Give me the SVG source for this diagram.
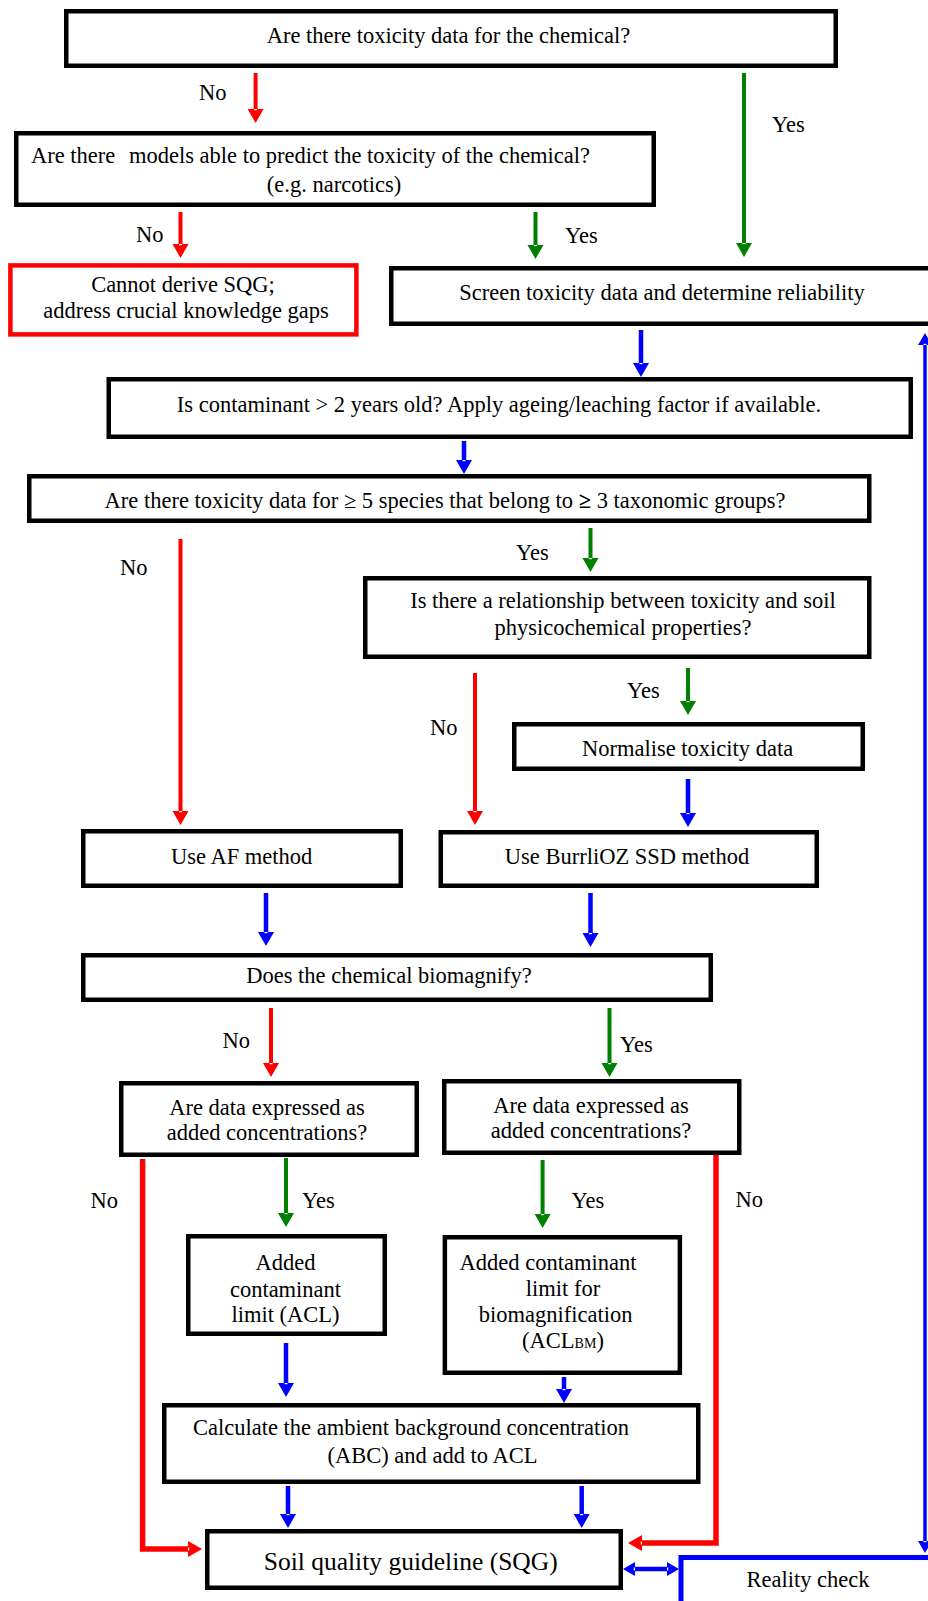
<svg xmlns="http://www.w3.org/2000/svg" width="928" height="1601" viewBox="0 0 928 1601">
<style>
  text { font-family: "Liberation Serif", "Times New Roman", serif; font-size: 22.5px; fill: #000; }
  .c { text-anchor: middle; }
  .box { fill: #fff; stroke: #000; stroke-width: 4.5; }
  .rbox { fill: #fff; stroke: #ff0000; stroke-width: 4.5; }
  .bbox { fill: #fff; stroke: #0000ff; stroke-width: 5; }
  .r { stroke: #ff0000; stroke-width: 4; fill: none; marker-end: url(#ar); }
  .g { stroke: #008000; stroke-width: 4; fill: none; marker-end: url(#ag); }
  .b { stroke: #0000ff; stroke-width: 4.5; fill: none; marker-end: url(#ab); }
  .rh { stroke: #ff0000; stroke-width: 5.5; fill: none; marker-end: url(#ar); }
  .bd { stroke: #0000ff; stroke-width: 4.5; fill: none; marker-start: url(#ab2); marker-end: url(#ab2); }
</style>
<defs>
  <marker id="ar" markerUnits="userSpaceOnUse" viewBox="0 -9 15 18" markerWidth="15" markerHeight="18" refX="0" refY="0" orient="auto">
    <path d="M0,-8 L14,0 L0,8 Z" fill="#ff0000"/><rect x="0" y="-1.5" width="1.2" height="3" fill="#fff"/>
  </marker>
  <marker id="ag" markerUnits="userSpaceOnUse" viewBox="0 -9 15 18" markerWidth="15" markerHeight="18" refX="0" refY="0" orient="auto">
    <path d="M0,-8 L14,0 L0,8 Z" fill="#008000"/><rect x="0" y="-1.5" width="1.2" height="3" fill="#fff"/>
  </marker>
  <marker id="ab" markerUnits="userSpaceOnUse" viewBox="0 -9 15 18" markerWidth="15" markerHeight="18" refX="0" refY="0" orient="auto">
    <path d="M0,-8 L14,0 L0,8 Z" fill="#0000ff"/><rect x="0" y="-1.5" width="1.2" height="3" fill="#fff"/>
  </marker>
  <marker id="ab2" markerUnits="userSpaceOnUse" viewBox="0 -9 15 18" markerWidth="15" markerHeight="18" refX="0" refY="0" orient="auto-start-reverse">
    <path d="M0,-7 L12,0 L0,7 Z" fill="#0000ff"/><rect x="0" y="-1.5" width="1.2" height="3" fill="#fff"/>
  </marker>
</defs>
<rect width="928" height="1601" fill="#fff"/>

<g id="connectors">
  <line class="r" x1="255.6" y1="73" x2="255.6" y2="109"/>
  <line class="g" x1="744" y1="73" x2="744" y2="243"/>
  <line class="r" x1="180.5" y1="212" x2="180.5" y2="244"/>
  <line class="g" x1="535.5" y1="212" x2="535.5" y2="245"/>
  <line class="b" x1="641" y1="330" x2="641" y2="363"/>
  <line class="b" x1="464" y1="441" x2="464" y2="460"/>
  <line class="g" x1="590.5" y1="528" x2="590.5" y2="558"/>
  <line class="r" x1="180.5" y1="539" x2="180.5" y2="811"/>
  <line class="r" x1="475" y1="673" x2="475" y2="811"/>
  <line class="g" x1="688" y1="668" x2="688" y2="701"/>
  <line class="b" x1="688" y1="779" x2="688" y2="813"/>
  <line class="b" x1="266" y1="893" x2="266" y2="932"/>
  <line class="b" x1="590.5" y1="893" x2="590.5" y2="933"/>
  <line class="r" x1="271" y1="1008" x2="271" y2="1063"/>
  <line class="g" x1="609.5" y1="1008" x2="609.5" y2="1063"/>
  <polyline class="rh" points="142.6,1159 142.6,1549 188,1549"/>
  <line class="g" x1="286" y1="1158" x2="286" y2="1213"/>
  <line class="g" x1="542.6" y1="1160" x2="542.6" y2="1214"/>
  <polyline class="rh" points="716,1155 716,1543 642,1543"/>
  <line class="b" x1="286" y1="1343" x2="286" y2="1383"/>
  <line class="b" x1="564" y1="1377" x2="564" y2="1389"/>
  <line class="b" x1="288" y1="1486" x2="288" y2="1514"/>
  <line class="b" x1="581.7" y1="1486" x2="581.7" y2="1514"/>
  <line class="bd" x1="635" y1="1569" x2="667" y2="1569"/>
  <line class="bd" x1="925" y1="345" x2="925" y2="1541" style="stroke-width:3.5"/>
</g>

<g id="labels">
  <text x="199" y="100">No</text>
  <text x="772" y="132">Yes</text>
  <text x="136" y="242">No</text>
  <text x="565" y="243">Yes</text>
  <text x="516" y="560">Yes</text>
  <text x="120" y="575">No</text>
  <text x="430" y="735">No</text>
  <text x="627" y="698">Yes</text>
  <text x="222.5" y="1048">No</text>
  <text x="620" y="1052">Yes</text>
  <text x="90.5" y="1208">No</text>
  <text x="302" y="1208">Yes</text>
  <text x="571.6" y="1208">Yes</text>
  <text x="735.5" y="1207">No</text>
</g>

<g id="n-toxdata">
  <rect class="box" x="66.25" y="11.25" width="769.5" height="54.5"/>
  <text class="c" x="448.5" y="43">Are there toxicity data for the chemical?</text>
</g>
<g id="n-models">
  <rect class="box" x="16.25" y="133.25" width="637.5" height="71.5"/>
  <text x="31" y="163">Are there<tspan x="129">models able to predict the toxicity of the chemical?</tspan></text>
  <text class="c" x="334" y="192">(e.g. narcotics)</text>
</g>
<g id="n-cannot">
  <rect class="rbox" x="10.4" y="265.4" width="346" height="69"/>
  <text class="c" x="183" y="292">Cannot derive SQG;</text>
  <text class="c" x="186" y="318">address crucial knowledge gaps</text>
</g>
<g id="n-screen">
  <rect class="box" x="391.25" y="268.25" width="600" height="55.5"/>
  <text class="c" x="662" y="300">Screen toxicity data and determine reliability</text>
</g>
<g id="n-age">
  <rect class="box" x="108.75" y="379.25" width="802" height="57.5"/>
  <text class="c" x="499" y="412">Is contaminant &gt; 2 years old? Apply ageing/leaching factor if available.</text>
</g>
<g id="n-species">
  <rect class="box" x="29.25" y="476.25" width="840" height="44.5"/>
  <text class="c" x="445" y="508">Are there toxicity data for ≥ 5 species that belong to <tspan font-weight="bold">≥</tspan> 3 taxonomic groups?</text>
</g>
<g id="n-relationship">
  <rect class="box" x="365.25" y="578.25" width="504" height="78.5"/>
  <text class="c" x="623" y="608">Is there a relationship between toxicity and soil</text>
  <text class="c" x="623" y="635">physicochemical properties?</text>
</g>
<g id="n-normalise">
  <rect class="box" x="514.25" y="724.25" width="348.5" height="44.5"/>
  <text class="c" x="687.6" y="756">Normalise toxicity data</text>
</g>
<g id="n-af">
  <rect class="box" x="83.25" y="831.25" width="317.5" height="54.5"/>
  <text class="c" x="241.7" y="864">Use AF method</text>
</g>
<g id="n-ssd">
  <rect class="box" x="440.75" y="832.25" width="376" height="53.5"/>
  <text class="c" x="627" y="864">Use BurrliOZ SSD method</text>
</g>
<g id="n-biomag">
  <rect class="box" x="83.25" y="955.25" width="627.5" height="44.5"/>
  <text class="c" x="389" y="983">Does the chemical biomagnify?</text>
</g>
<g id="n-added-left">
  <rect class="box" x="121.25" y="1083.25" width="295.5" height="71.5"/>
  <text class="c" x="267" y="1115">Are data expressed as</text>
  <text class="c" x="267" y="1140">added concentrations?</text>
</g>
<g id="n-added-right">
  <rect class="box" x="444.25" y="1081.25" width="295" height="71.5"/>
  <text class="c" x="591" y="1113">Are data expressed as</text>
  <text class="c" x="591" y="1138">added concentrations?</text>
</g>
<g id="n-acl">
  <rect class="box" x="188.25" y="1236.25" width="196.5" height="97.5"/>
  <text class="c" x="285.5" y="1270">Added</text>
  <text class="c" x="285.5" y="1297">contaminant</text>
  <text class="c" x="285.5" y="1322">limit (ACL)</text>
</g>
<g id="n-aclbm">
  <rect class="box" x="444.85" y="1237.25" width="235" height="135.5"/>
  <text class="c" x="548" y="1270">Added contaminant</text>
  <text class="c" x="563" y="1296">limit for</text>
  <text class="c" x="555.6" y="1322">biomagnification</text>
  <text class="c" x="563" y="1348">(ACL<tspan font-size="14">BM</tspan>)</text>
</g>
<g id="n-abc">
  <rect class="box" x="164.25" y="1405.25" width="534" height="76.5"/>
  <text class="c" x="411" y="1435">Calculate the ambient background concentration</text>
  <text class="c" x="432.5" y="1463">(ABC) and add to ACL</text>
</g>
<g id="n-sqg">
  <rect class="box" x="207.25" y="1531.25" width="413.5" height="56.5"/>
  <text class="c" x="410.7" y="1570" style="font-size:25.5px">Soil quality guideline (SQG)</text>
</g>
<g id="n-reality">
  <rect class="bbox" x="681" y="1557.5" width="400" height="200"/>
  <text class="c" x="808" y="1587">Reality check</text>
</g>
</svg>
